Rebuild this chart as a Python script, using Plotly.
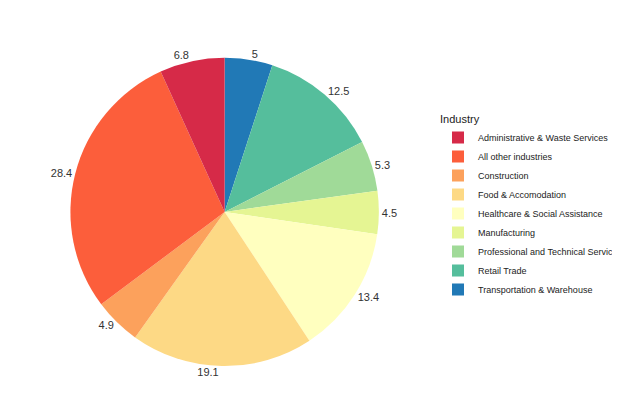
import plotly.graph_objects as go

industries = ["Transportation & Warehouse", "Retail Trade", "Professional and Technical Services",
              "Manufacturing", "Healthcare & Social Assistance", "Food & Accomodation",
              "Construction", "All other industries", "Administrative & Waste Services"]
values = [5, 12.5, 5.3, 4.5, 13.4, 19.1, 4.9, 28.4, 6.8]
colors = ["#2179B6", "#55BE9C", "#A0DA98", "#E5F593", "#FFFFBF", "#FDD985", "#FCA15C", "#FC5E3B", "#D62A48"]

fig = go.Figure(go.Pie(
    labels=industries, values=values, sort=False, direction="clockwise", rotation=0,
    marker=dict(colors=colors), text=[str(v) for v in values], textinfo="text",
    textposition="outside", textfont=dict(size=11, color="#333333"),
    domain=dict(x=[0.10, 0.60], y=[0.135, 0.88]), hoverinfo="label+value",
))
fig.update_layout(
    width=620, height=414, margin=dict(l=0, r=0, t=0, b=0),
    paper_bgcolor="white", plot_bgcolor="white",
    font=dict(family="Liberation Sans, Arial", size=9, color="#222222"),
    legend=dict(title=dict(text="Industry", font=dict(size=11)), traceorder="reversed",
                itemwidth=30, tracegroupgap=0,
                x=0.695, y=0.52, xanchor="left", yanchor="middle", font=dict(size=9)),
)
fig.write_html("out.html")
